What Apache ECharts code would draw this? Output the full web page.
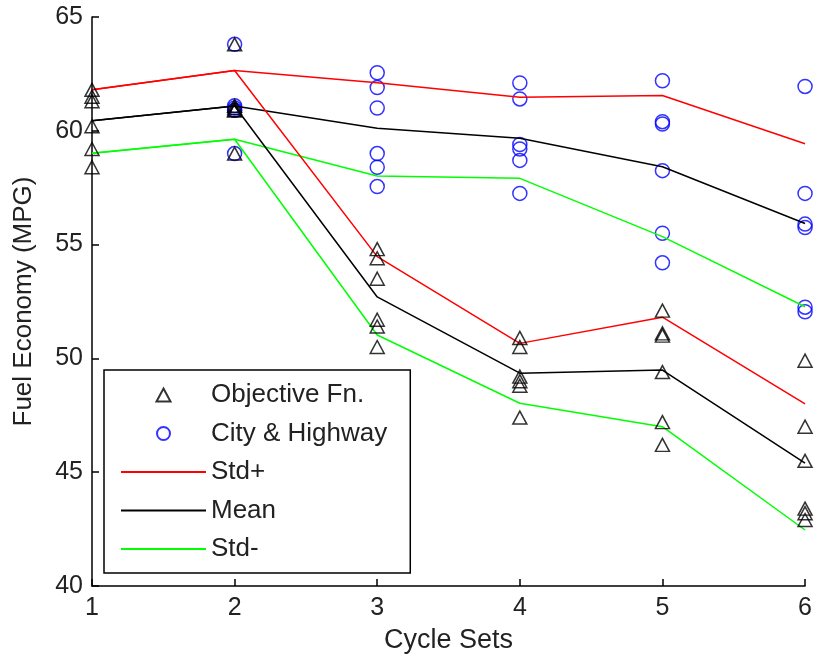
<!DOCTYPE html>
<html>
<head>
<meta charset="utf-8">
<title>Fuel Economy by Cycle Set</title>
<script src="https://cdn.jsdelivr.net/npm/echarts@6/dist/echarts.min.js"></script>
<style>
  html, body { margin: 0; padding: 0; background: #fff; }
  #chart { width: 815px; height: 659px; }
</style>
</head>
<body>
<div id="chart"></div>
<script>
// Cycle sets on the x axis
const cycleSets = [1, 2, 3, 4, 5, 6];

// Fuel economy (MPG) of each run, one list per cycle set
const objectiveFn = [
  [61.8, 61.5, 61.3, 60.2, 59.2, 58.4],
  [63.8, 61.1, 61.0, 60.9, 60.9, 59.0],
  [54.8, 54.4, 53.5, 51.7, 51.4, 50.5],
  [50.9, 50.5, 49.2, 49.0, 48.8, 47.4],
  [52.1, 51.1, 51.0, 49.4, 47.2, 46.2],
  [49.9, 47.0, 45.5, 43.4, 43.2, 42.9]
];
const cityHighway = [
  [],
  [63.8, 61.1, 61.0, 60.9, 60.9, 59.0],
  [62.55, 61.9, 61.0, 59.0, 58.4, 57.55],
  [62.1, 61.4, 59.4, 59.2, 58.7, 57.25],
  [62.2, 60.4, 60.3, 58.25, 55.5, 54.2],
  [61.95, 57.25, 55.9, 55.75, 52.25, 52.05]
];

// Mean and mean ± one standard deviation for each group
const objStdPlus  = [61.8, 62.65, 54.47, 50.66, 51.81, 48.0];
const objMean     = [60.44, 61.09, 52.7, 49.35, 49.49, 45.4];
const objStdMinus = [59.01, 59.63, 51.03, 48.03, 47.0, 42.46];
const chStdPlus   = [61.8, 62.65, 62.11, 61.47, 61.55, 59.43];
const chMean      = [60.44, 61.09, 60.11, 59.67, 58.42, 55.93];
const chStdMinus  = [59.01, 59.63, 58.01, 57.91, 55.35, 52.27];

// Y axis tick values
const yTicks = [40, 45, 50, 55, 60, 65];

const FONT = 'Liberation Sans, Arial, sans-serif';
const TEXT = '#222';

function points(groups) {
  const out = [];
  groups.forEach((vals, i) => vals.forEach(v => out.push([cycleSets[i], v])));
  return out;
}
function pairs(vals) {
  return vals.map((v, i) => [cycleSets[i], v]);
}
function lineSeries(name, vals, color) {
  return {
    name: name,
    type: 'line',
    data: pairs(vals),
    symbol: 'none',
    clip: false,
    z: 3,
    lineStyle: { color: color, width: 1.5 },
    itemStyle: { color: color },
    emphasis: { disabled: true }
  };
}

// legend entry for a line: plain stroke, no marker
function lineLegend(name) {
  return { name: name, itemStyle: { opacity: 0 } };
}

const chart = echarts.init(document.getElementById('chart'), null, { renderer: 'canvas' });

chart.setOption({
  animation: false,
  backgroundColor: '#fff',
  textStyle: { fontFamily: FONT },
  grid: { left: 92, right: 9, top: 17, bottom: 73, containLabel: false },
  xAxis: {
    type: 'value',
    min: 1, max: 6, interval: 1,
    name: 'Cycle Sets',
    nameLocation: 'middle',
    nameGap: 41,
    nameTextStyle: { fontFamily: FONT, fontSize: 27, color: TEXT },
    axisLine: { show: true, lineStyle: { color: '#000', width: 1.5 } },
    axisTick: { show: true, inside: true, length: 7, lineStyle: { color: '#000', width: 1.5 } },
    axisLabel: { fontFamily: FONT, fontSize: 25, color: TEXT, margin: 10 },
    splitLine: { show: false }
  },
  yAxis: {
    type: 'value',
    min: yTicks[0], max: yTicks[yTicks.length - 1], interval: 5,
    name: 'Fuel Economy (MPG)',
    nameLocation: 'middle',
    nameGap: 55,
    nameTextStyle: { fontFamily: FONT, fontSize: 26, color: TEXT },
    axisLine: { show: true, lineStyle: { color: '#000', width: 1.5 } },
    axisTick: { show: true, inside: true, length: 7, lineStyle: { color: '#000', width: 1.5 } },
    axisLabel: { fontFamily: FONT, fontSize: 25, color: TEXT, margin: 9 },
    splitLine: { show: false }
  },
  legend: {
    orient: 'vertical',
    left: 104,
    top: 370,
    data: [
      { name: 'Objective Fn.', icon: 'path://M7,0L14,13L0,13Z' },
      { name: 'City & Highway', icon: 'circle' },
      lineLegend('Std+'),
      lineLegend('Mean'),
      lineLegend('Std-')
    ],
    itemWidth: 85,
    itemHeight: 13,
    itemGap: 12.5,
    symbolKeepAspect: true,
    padding: [12, 23, 11, 16],
    backgroundColor: '#fff',
    borderColor: '#000',
    borderWidth: 1.5,
    borderRadius: 0,
    selectedMode: false,
    textStyle: { fontFamily: FONT, fontSize: 26, color: TEXT, lineHeight: 26 }
  },
  series: [
    {
      name: 'City & Highway',
      type: 'scatter',
      data: points(cityHighway),
      symbol: 'circle',
      symbolSize: 14,
      clip: false,
      z: 2,
      itemStyle: { color: 'rgba(0,0,0,0)', borderColor: '#0000ff', borderWidth: 1.5 },
      emphasis: { disabled: true }
    },
    {
      name: 'Objective Fn.',
      type: 'scatter',
      data: points(objectiveFn),
      symbol: 'triangle',
      symbolSize: [14, 13],
      clip: false,
      z: 4,
      itemStyle: { color: 'rgba(0,0,0,0)', borderColor: '#000', borderWidth: 1.5 },
      emphasis: { disabled: true }
    },
    lineSeries('Std+', chStdPlus, '#ff0000'),
    lineSeries('Mean', chMean, '#000000'),
    lineSeries('Std-', chStdMinus, '#00ff00'),
    lineSeries('Std+', objStdPlus, '#ff0000'),
    lineSeries('Mean', objMean, '#000000'),
    lineSeries('Std-', objStdMinus, '#00ff00')
  ]
});
</script>
</body>
</html>
